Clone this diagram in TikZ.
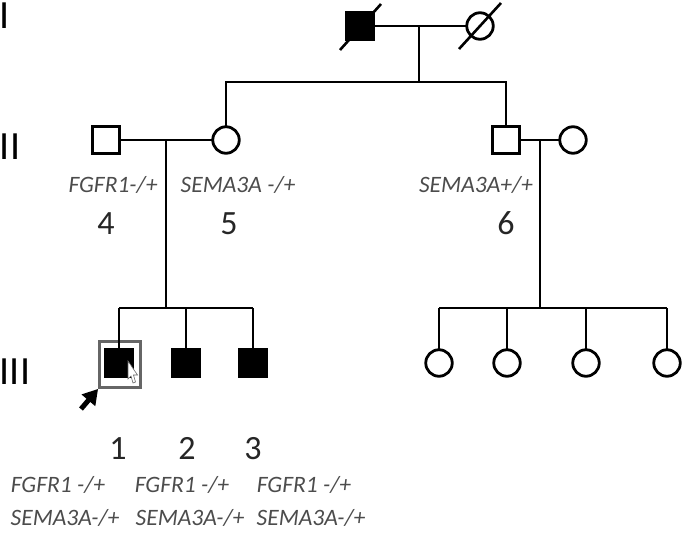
\documentclass[tikz,border=0pt]{standalone}
\usepackage{fontspec}
\setmainfont{Carlito}
\usetikzlibrary{arrows.meta}
\usetikzlibrary{positioning}
\definecolor{lblgray}{rgb}{0.3,0.3,0.3}
\colorlet{numgray}{black!85}
\colorlet{boxgray}{black!60}
\tikzset{
  person/.style={draw=black,line width=2.8pt,inner sep=0,outer sep=0},
  male/.style={person,rectangle,minimum size=27pt},
  female/.style={person,circle,minimum size=26.5pt},
  affected/.style={fill=black},
  connect/.style={line width=2.6pt,black},
  gene/.style={anchor=base,inner sep=0,text=lblgray,font=\fontsize{23.5}{26}\selectfont\itshape},
  num/.style={anchor=base,inner sep=0,text=numgray,font=\fontsize{34}{38}\selectfont},
  gen/.style={anchor=base,inner sep=0,text=black,font=\fontsize{40}{44}\selectfont}
}

\begin{document}
\begin{tikzpicture}[x=1pt,y=-1pt]
  \useasboundingbox (0,0) rectangle (685,537);

  % generations
  \node[gen] (gI) at (5,29) {I};
  \node[gen] (gII) at (10,160) {II};
  \node[gen] (gIII) at (15,384) {III};

  % generation I
  \node[male,affected] (I1) at (360,26) {};
  \node[female] (I2) at (480,26) {};
  \draw[connect] ([shift={(-20,24)}]I1.center) -- ([shift={(21,-22)}]I1.center);
  \draw[connect] ([shift={(-21,23)}]I2.center) -- ([shift={(21,-23)}]I2.center);

  % generation II
  \node[male] (II4) at (106,140) {};
  \node[female] (II5) at (226,140) {};
  \node[male] (II6) at (506,140) {};
  \node[female] (II7) at (573,140) {};

  \node[gene] (g4) at (113,193) {FGFR1-/+};
  \node[gene] (g5) at (238,193) {SEMA3A -/+};
  \node[gene] (g6) at (476,193) {SEMA3A+/+};
  \node[num] (n4) at (106,235) {4};
  \node[num] (n5) at (229,235) {5};
  \node[num] (n6) at (506,235) {6};

  % generation III
  \node[male,affected] (III1) at (119,363) {};
  \node[male,affected] (III2) at (186,363) {};
  \node[male,affected] (III3) at (253,363) {};
  \node[female] (III4) at (439,363) {};
  \node[female] (III5) at (507,363) {};
  \node[female] (III6) at (586,363) {};
  \node[female] (III7) at (667,363) {};

  \node[num] (n1) at (118,459) {1};
  \node[num] (n2) at (187,459) {2};
  \node[num] (n3) at (253,459) {3};
  \foreach \x/\y [count=\i] in {58/65,182/190,304/311} {
    \node[gene] (f\i) at (\x,492) {FGFR1 -/+};
    \node[gene] (s\i) at (\y,525) {SEMA3A-/+};
  }

  % proband
  \node[draw=boxgray,line width=2.8pt,minimum width=41pt,minimum height=46pt,inner sep=0] (pbox) at (120,364.5) {};
  \filldraw[fill=white,draw=boxgray,line width=0.6pt] (128,361) -- (128,379) -- (131,376) -- (133,383) -- (135.5,382) -- (133.5,375) -- (137.5,375) -- cycle;
  \coordinate (pa) at (81,409);
  \draw[-{Triangle[length=15pt,width=17pt]},line width=5pt] (pa) -- (pbox.south west);

  % lines of descent
  \coordinate (m1) at (419,26);
  \coordinate (s1) at (419,82);
  \coordinate (m2) at (166,140);
  \coordinate (s2) at (166,308);
  \coordinate (m3) at (540,140);
  \coordinate (s3) at (540,308);

  \draw[connect] (I1.east) -- (I2.west);
  \draw[connect] (m1) -- (s1);
  \draw[connect] (II5.north) -- (II5 |- s1) -- (II6 |- s1) -- (II6.north);

  \draw[connect] (II4.east) -- (II5.west);
  \draw[connect] (II6.east) -- (II7.west);
  \draw[connect] (m2) -- (s2);
  \draw[connect] (m3) -- (s3);

  \draw[connect] (III1 |- s2) -- (III3 |- s2);
  \foreach \c in {III1,III2,III3} \draw[connect] (\c |- s2) -- (\c.north);
  \draw[connect] (III4 |- s3) -- (III7 |- s3);
  \foreach \c in {III4,III5,III6,III7} \draw[connect] (\c |- s3) -- (\c.north);

\end{tikzpicture}
\end{document}
